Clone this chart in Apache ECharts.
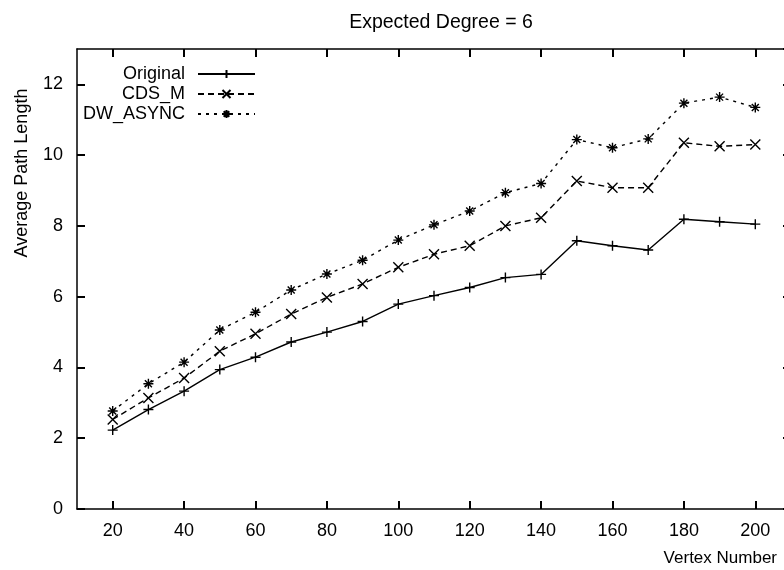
<!DOCTYPE html>
<html>
<head>
<meta charset="utf-8">
<script src="https://cdn.jsdelivr.net/npm/echarts@6/dist/echarts.min.js"></script>
<style>
  html, body { margin: 0; padding: 0; background: #fff; }
  #chart { width: 784px; height: 570px; }
</style>
</head>
<body>
<div id="chart"></div>
<script>
// vertex counts on the x axis
const vertexNumbers = [20, 30, 40, 50, 60, 70, 80, 90, 100, 110, 120, 130, 140, 150, 160, 170, 180, 190, 200]

// average path length per method
const original = [2.23, 2.81, 3.33, 3.94, 4.29, 4.72, 5.0, 5.30, 5.79, 6.03, 6.26, 6.54, 6.63, 7.58, 7.44, 7.32, 8.19, 8.12, 8.05]
const cdsM = [2.53, 3.14, 3.70, 4.46, 4.95, 5.51, 5.98, 6.36, 6.83, 7.20, 7.44, 8.0, 8.23, 9.27, 9.08, 9.08, 10.35, 10.25, 10.30]
const dwAsync = [2.77, 3.54, 4.15, 5.06, 5.56, 6.19, 6.64, 7.03, 7.60, 8.03, 8.42, 8.94, 9.20, 10.44, 10.21, 10.46, 11.47, 11.64, 11.35]

const FONT = 'Liberation Sans'
const SYM_PLUS = 'path://M0,5 L10,5 M5,0 L5,10'
const SYM_X = 'path://M0,0 L10,10 M10,0 L0,10'
const SYM_STAR = 'path://M0,5 L10,5 M5,0 L5,10 M1.5,1.5 L8.5,8.5 M8.5,1.5 L1.5,8.5'

// plot frame: x 10..210 over 77px .. 791px (right edge is cut off by the picture)
const X_MIN = 10, X_MAX = 210, PLOT_LEFT = 77, PLOT_RIGHT = -7
const PX_PER_UNIT = (784 - PLOT_LEFT - PLOT_RIGHT) / (X_MAX - X_MIN)
// tick grid starts at x=20 so interval 20 ticks fall on 20, 40, ... 200
const TICK_LEFT = PLOT_LEFT + (20 - X_MIN) * PX_PER_UNIT

const pairs = (ys) => vertexNumbers.map((x, i) => [x, ys[i]])

function lineSeries(name, ys, symbol, dash) {
  return {
    name,
    type: 'line',
    data: pairs(ys),
    symbol,
    symbolSize: 10,
    showAllSymbol: true,
    lineStyle: { color: '#000', width: 1.4, type: dash },
    itemStyle: { color: '#000', borderColor: '#000', borderWidth: 1.4 },
    emphasis: { disabled: true },
    animation: false,
  }
}

function legendFor(name, top) {
  return {
    data: [name],
    right: 523,
    top,
    align: 'right',
    itemWidth: 57,
    itemHeight: 10,
    selectedMode: false,
    textStyle: { fontFamily: FONT, fontSize: 18, color: '#000', padding: [0, 8, 0, 0] },
  }
}

const lineStyle = { color: '#000', width: 1.5 }
const tickStyle = { color: '#000', width: 2 }

const chart = echarts.init(document.getElementById('chart'))
chart.setOption({
  animation: false,
  backgroundColor: '#fff',
  title: {
    text: 'Expected Degree = 6',
    left: 436,
    top: 8,
    textAlign: 'center',
    textStyle: { fontFamily: FONT, fontSize: 19.5, fontWeight: 'normal', color: '#000' },
  },
  legend: [
    legendFor('Original', 60),
    legendFor('CDS_M', 80),
    legendFor('DW_ASYNC', 100),
  ],
  grid: [
    { left: PLOT_LEFT, top: 49, right: PLOT_RIGHT, bottom: 61, outerBoundsMode: 'none' },
    { left: TICK_LEFT, top: 49, right: PLOT_RIGHT, bottom: 61, outerBoundsMode: 'none' },
  ],
  xAxis: [
    {
      gridIndex: 0,
      type: 'value',
      min: X_MIN,
      max: X_MAX,
      axisLine: { show: true, onZero: false, lineStyle },
      axisTick: { show: false },
      axisLabel: { show: false },
      splitLine: { show: false },
    },
    {
      gridIndex: 0,
      type: 'value',
      position: 'top',
      min: X_MIN,
      max: X_MAX,
      axisLine: { show: true, onZero: false, lineStyle },
      axisTick: { show: false },
      axisLabel: { show: false },
      splitLine: { show: false },
    },
    {
      gridIndex: 1,
      type: 'value',
      min: 20,
      max: X_MAX,
      interval: 20,
      axisLine: { show: false, onZero: false },
      axisTick: { show: true, inside: true, length: 8, lineStyle: tickStyle },
      axisLabel: { margin: 13, showMaxLabel: false, fontFamily: FONT, fontSize: 18, color: '#000' },
      splitLine: { show: false },
    },
    {
      gridIndex: 1,
      type: 'value',
      position: 'top',
      min: 20,
      max: X_MAX,
      interval: 20,
      axisLine: { show: false, onZero: false },
      axisTick: { show: true, inside: true, length: 8, lineStyle: tickStyle },
      axisLabel: { show: false },
      splitLine: { show: false },
    },
  ],
  yAxis: [
    {
      gridIndex: 0,
      type: 'value',
      min: 0,
      max: 13,
      interval: 2,
      axisLine: { show: true, onZero: false, lineStyle },
      axisTick: { show: true, inside: true, length: 8, lineStyle: tickStyle },
      axisLabel: { margin: 14, showMaxLabel: false, fontFamily: FONT, fontSize: 18, color: '#000' },
      splitLine: { show: false },
    },
    {
      gridIndex: 0,
      type: 'value',
      position: 'right',
      min: 0,
      max: 13,
      interval: 2,
      axisLine: { show: true, onZero: false, lineStyle },
      axisTick: { show: true, inside: true, length: 8, lineStyle: tickStyle },
      axisLabel: { show: false },
      splitLine: { show: false },
    },
    {
      gridIndex: 1,
      type: 'value',
      min: 0,
      max: 13,
      show: false,
    },
  ],
  graphic: [
    {
      type: 'text',
      x: 22,
      y: 173,
      rotation: Math.PI / 2,
      style: { text: 'Average Path Length', font: '18px "Liberation Sans"', fill: '#000', align: 'center', verticalAlign: 'middle' },
    },
    {
      type: 'text',
      x: 777,
      y: 558,
      style: { text: 'Vertex Number', font: '17px "Liberation Sans"', fill: '#000', align: 'right', verticalAlign: 'middle' },
    },
  ],
  series: [
    lineSeries('Original', original, SYM_PLUS, 'solid'),
    lineSeries('CDS_M', cdsM, SYM_X, [6, 4]),
    lineSeries('DW_ASYNC', dwAsync, SYM_STAR, [3, 5]),
  ],
})
</script>
</body>
</html>
